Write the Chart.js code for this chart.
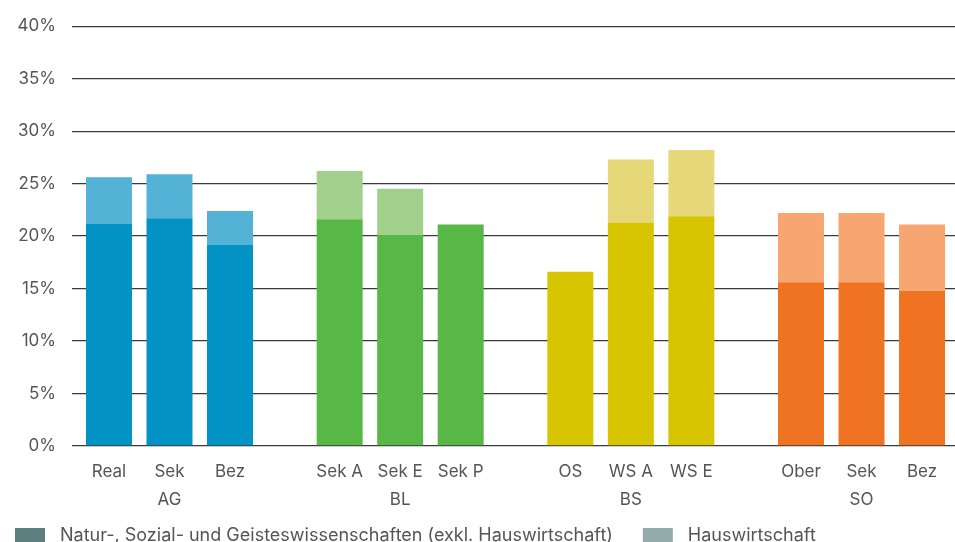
<!DOCTYPE html>
<html lang="de">
<head>
<meta charset="utf-8">
<title>Anteil Lektionen nach Schultyp</title>
<script src="https://cdn.jsdelivr.net/npm/chart.js@4.4.1/dist/chart.umd.min.js"></script>
<style>
  html, body { margin: 0; padding: 0; background: #fff; overflow: hidden; }
  #wrap { position: relative; width: 955px; height: 542px; }
</style>
</head>
<body>
<div id="wrap"><canvas id="chart"></canvas></div>
<script>
const regions = ['AG', 'BL', 'BS', 'SO'];
const schoolTypes = [
  ['Real', 'Sek', 'Bez'],
  ['Sek A', 'Sek E', 'Sek P'],
  ['OS', 'WS A', 'WS E'],
  ['Ober', 'Sek', 'Bez']
];
// Anteil in Prozent, je Kanton drei Schultypen
const nswShare = [
  [21.2, 21.7, 19.2],
  [21.6, 20.1, 21.1],
  [16.6, 21.3, 21.9],
  [15.6, 15.6, 14.8]
];
const hwShare = [
  [4.4, 4.2, 3.2],
  [4.6, 4.4, 0],
  [0, 6.0, 6.3],
  [6.6, 6.6, 6.3]
];
const yMax = 40;
const yStep = 5;
const seriesNames = ['Natur-, Sozial- und Geisteswissenschaften (exkl. Hauswirtschaft)', 'Hauswirtschaft'];

const darkColors = ['#0292c3', '#57b847', '#d6c500', '#f07322'];
const lightColors = ['#53b2d6', '#a0d08c', '#e6d878', '#f8a671'];
const legendColors = ['#5b7f7e', '#93abaa'];
const textColor = '#555';
const fontFamily = 'Inter, "Liberation Sans", sans-serif';

// one stack per school type, two segments each
const datasets = [];
for (let k = 0; k < 3; k++) {
  datasets.push({
    label: seriesNames[0],
    stack: 's' + k,
    data: regions.map((r, i) => ({ x: i, y: nswShare[i][k] })),
    backgroundColor: darkColors
  });
  datasets.push({
    label: seriesNames[1],
    stack: 's' + k,
    data: regions.map((r, i) => ({ x: i, y: hwShare[i][k] })),
    backgroundColor: lightColors
  });
}

// school type under each bar, canton under the middle one, legend at the bottom
const labelPlugin = {
  id: 'labelPlugin',
  afterDraw(chart) {
    const ctx = chart.ctx;
    const base = chart.chartArea.bottom;
    ctx.save();
    ctx.fillStyle = textColor;
    ctx.font = '17px ' + fontFamily;
    ctx.textAlign = 'center';
    ctx.textBaseline = 'alphabetic';
    for (let k = 0; k < 3; k++) {
      const meta = chart.getDatasetMeta(k * 2);
      meta.data.forEach((bar, i) => {
        ctx.fillText(schoolTypes[i][k], bar.x, base + 31);
        if (k === 1) ctx.fillText(regions[i], bar.x, base + 59);
      });
    }
    ctx.font = '18px ' + fontFamily;
    ctx.textAlign = 'left';
    let x = 15;
    seriesNames.forEach((name, j) => {
      ctx.fillStyle = legendColors[j];
      ctx.fillRect(x, base + 82, 30, 20);
      ctx.fillStyle = textColor;
      ctx.fillText(name, x + 45, base + 95);
      x += 45 + ctx.measureText(name).width + 30;
    });
    ctx.restore();
  }
};

new Chart(document.getElementById('chart'), {
  type: 'bar',
  data: { datasets },
  options: {
    responsive: true,
    maintainAspectRatio: false,
    animation: false,
    categoryPercentage: 0.787,
    barPercentage: 0.76,
    layout: { padding: { top: 23, right: 0, left: 0, bottom: 0 } },
    plugins: {
      legend: { display: false },
      tooltip: { enabled: false }
    },
    scales: {
      x: {
        type: 'linear',
        offset: false,
        min: -0.4227,
        max: 3.4053,
        afterBuildTicks: s => { s.ticks = regions.map((r, i) => ({ value: i })); },
        afterFit: s => { s.height = 96; },
        ticks: { display: false },
        grid: { display: false },
        border: { display: false }
      },
      y: {
        stacked: true,
        min: 0,
        max: yMax,
        afterFit: s => { s.width = 72; },
        ticks: {
          stepSize: yStep,
          padding: 16,
          color: textColor,
          font: { family: fontFamily, size: 17 },
          callback: v => v + '%'
        },
        grid: { color: '#3a3a3a', lineWidth: 1.3, drawTicks: false },
        border: { display: false }
      }
    }
  },
  plugins: [labelPlugin]
});
</script>
</body>
</html>
